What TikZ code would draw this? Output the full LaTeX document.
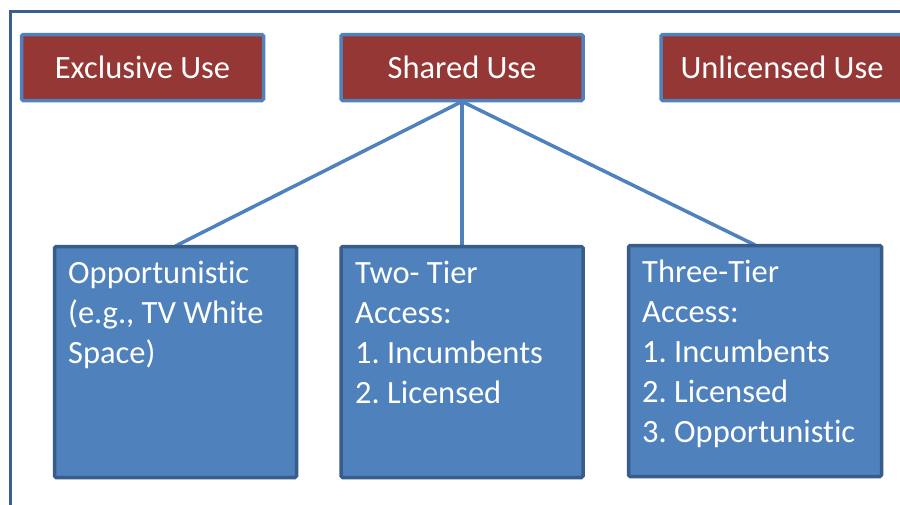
\documentclass[tikz,border=0pt]{standalone}
\usepackage{fontspec}
\setmainfont{Carlito}[Ligatures={NoCommon}]
\frenchspacing
\definecolor{framecol}{HTML}{3B5E8C}
\definecolor{accblue}{HTML}{4F81BD}
\definecolor{darkblue}{HTML}{385D8A}
\definecolor{darkred}{HTML}{953735}
\newcommand{\firststrut}{\rule{0pt}{30pt}}
\begin{document}
\begin{tikzpicture}[x=1pt,y=-1pt,
  redbox/.style={draw=accblue, fill=darkred, line width=3.5pt, rounded corners=1.5pt,
    minimum width=242pt, minimum height=66pt, inner sep=0pt, text=white,
    font=\fontsize{32.5}{40}\selectfont},
  bluebox/.style={draw=darkblue, fill=accblue, line width=3.5pt, rounded corners=1.5pt,
    minimum width=242pt, minimum height=231pt, inner sep=0pt},
  boxtext/.style={anchor=north west, inner sep=0pt, align=left, text=white,
    font=\fontsize{32.5}{40}\selectfont},
  link/.style={draw=accblue, line width=3.5pt}]
  \useasboundingbox (0,0) rectangle (900,504);
  \fill[white] (0,0) rectangle (900,504);

  % outer frame, open towards the right and bottom edges
  \coordinate (fbl) at (10.5,510);
  \coordinate (ftl) at (10.5,11.5);
  \coordinate (ftr) at (910,11.5);
  \draw[framecol, line width=3.5pt] (fbl) -- (ftl) -- (ftr);

  % coordinates of the boxes
  \coordinate (pex) at (142.5,67.5);
  \coordinate (psh) at (462,67.5);
  \coordinate (pun) at (782,67.5);
  \coordinate (pb1) at (175.5,362);
  \coordinate (pb2) at (462,362);
  \coordinate (pb3) at (755,361);

  % tree links behind the boxes
  \path (psh) ++(0,34) coordinate (shs);
  \path (pb1) ++(0,-116) coordinate (b1n);
  \path (pb2) ++(0,-116) coordinate (b2n);
  \path (pb3) ++(0,-116) coordinate (b3n);
  \draw[link] (shs) -- (b1n);
  \draw[link] (shs) -- (b2n);
  \draw[link] (shs) -- (b3n);

  % top row
  \node[redbox] (ex) at (pex) {Exclusive Use};
  \node[redbox] (sh) at (psh) {Shared Use};
  \node[redbox] (un) at (pun) {Unlicensed Use};

  % bottom row
  \node[bluebox] (b1) at (pb1) {};
  \node[bluebox] (b2) at (pb2) {};
  \node[bluebox, minimum width=253pt] (b3) at (pb3) {};

  \node[boxtext] (t1) at (68,253) {\firststrut Opportunistic\\(e.g., TV White\\Space)};
  \node[boxtext] (t2) at (355,253) {\firststrut Two- Tier\\Access:\\1. Incumbents\\2. Licensed};
  \node[boxtext] (t3) at (642,252) {\firststrut Three-Tier\\Access:\\1. Incumbents\\2. Licensed\\3. Opportunistic};
\end{tikzpicture}
\end{document}
